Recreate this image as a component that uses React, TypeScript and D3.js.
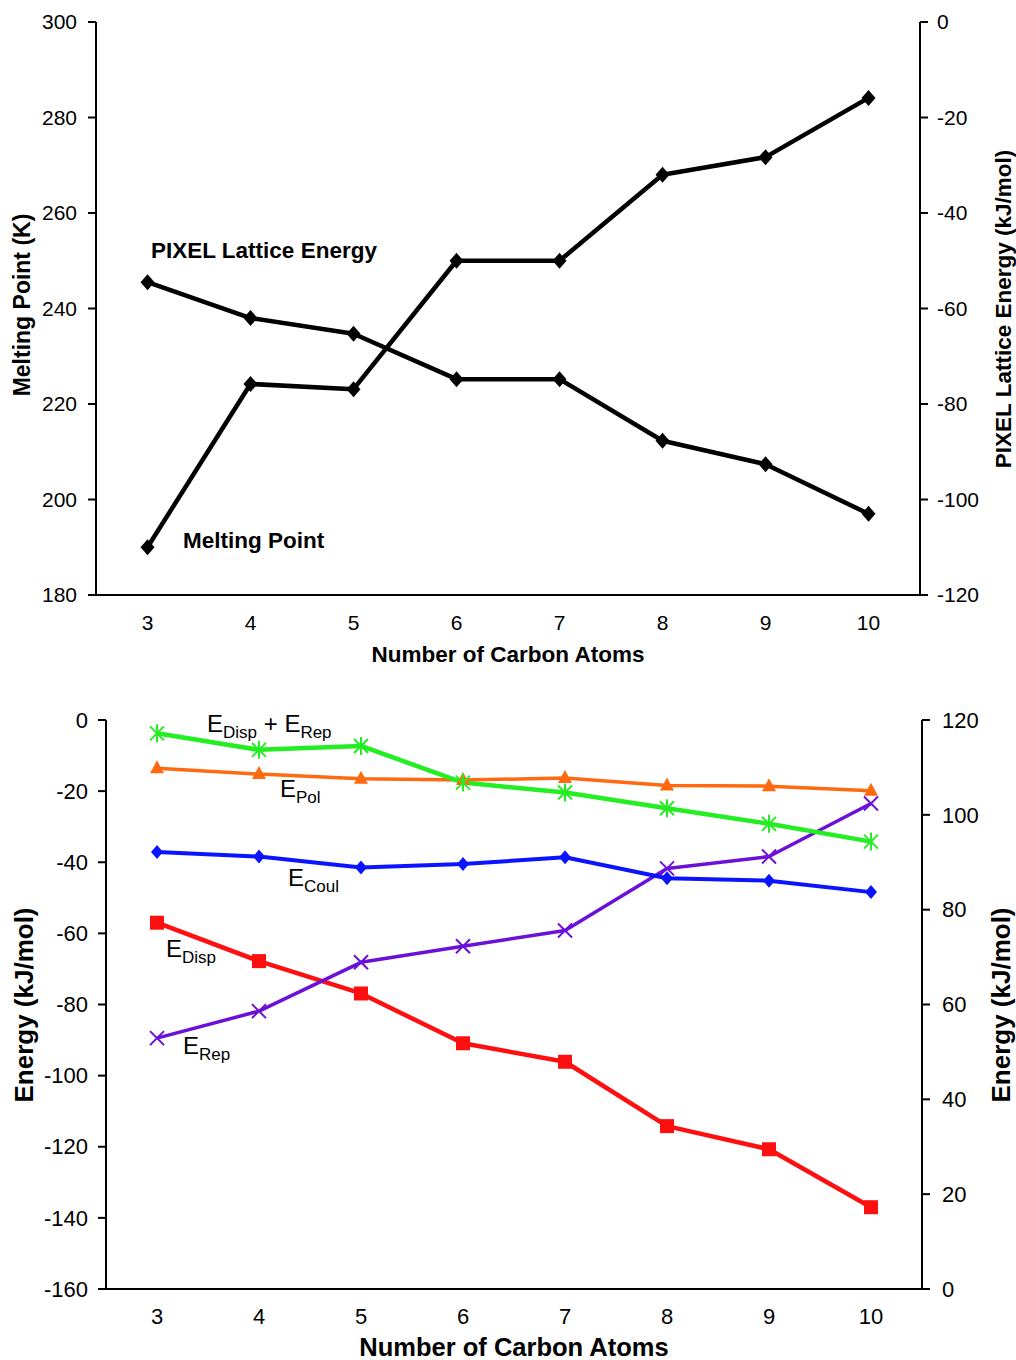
import React from "react";
import * as d3 from "d3";

const carbons = [3, 4, 5, 6, 7, 8, 9, 10];
const meltingPoint = [190, 224.2, 223.1, 250, 250, 268, 271.7, 284.1];
const pixelLattice = [-54.5, -62, -65.3, -74.8, -74.8, -87.7, -92.6, -103];

const eDispRep = [-3.75, -8.4, -7.3, -17.6, -20.4, -24.8, -29.2, -34.2];
const ePol = [-13.6, -15.2, -16.5, -16.9, -16.3, -18.4, -18.6, -19.9];
const eCoul = [-37.1, -38.4, -41.5, -40.5, -38.6, -44.5, -45.2, -48.4];
const eDisp = [-57.0, -67.8, -76.9, -90.9, -96.1, -114.2, -120.7, -137.0];
const eRep = [52.9, 58.6, 68.9, 72.3, 75.6, 88.7, 91.2, 102.4];

const topLeftTicks = [180, 200, 220, 240, 260, 280, 300];
const topRightTicks = [-120, -100, -80, -60, -40, -20, 0];
const botLeftTicks = [-160, -140, -120, -100, -80, -60, -40, -20, 0];
const botRightTicks = [0, 20, 40, 60, 80, 100, 120];

const FONT = "'Liberation Sans', Arial, sans-serif";

function diamond(cx: number, cy: number, w: number, h: number) {
  return `M${cx},${cy - h / 2}L${cx + w / 2},${cy}L${cx},${cy + h / 2}L${cx - w / 2},${cy}Z`;
}

export default function App() {
  // Top chart
  const tL = 96, tR = 920, tT = 22, tB = 595;
  const xTop = d3.scalePoint<number>().domain(carbons).range([tL, tR]).padding(0.5);
  const yTopL = d3.scaleLinear().domain([180, 300]).range([tB, tT]);
  const yTopR = d3.scaleLinear().domain([-120, 0]).range([tB, tT]);

  // Bottom chart
  const bL = 106, bR = 922, bT = 720, bB = 1289;
  const xBot = d3.scalePoint<number>().domain(carbons).range([bL, bR]).padding(0.5);
  const yBotL = d3.scaleLinear().domain([-160, 0]).range([bB, bT]);
  const yBotR = d3.scaleLinear().domain([0, 120]).range([bB, bT]);

  const lineTopMP = d3.line<number>().x((_, i) => xTop(carbons[i])!).y((d) => yTopL(d));
  const lineTopPX = d3.line<number>().x((_, i) => xTop(carbons[i])!).y((d) => yTopR(d));
  const lineBL = d3.line<number>().x((_, i) => xBot(carbons[i])!).y((d) => yBotL(d));
  const lineBR = d3.line<number>().x((_, i) => xBot(carbons[i])!).y((d) => yBotR(d));

  const green = "#22ee22";
  const orange = "#ff6a10";
  const blue = "#0a14ff";
  const red = "#ff1010";
  const purple = "#6a10d8";

  const tick = 21;

  return (
    <svg
      width={1016}
      height={1360}
      style={{ position: "absolute", left: 0, top: 0, background: "#fff" }}
      fontFamily={FONT}
    >
      {/* ===== TOP CHART ===== */}
      <g>
        <line x1={tL} y1={tT} x2={tL} y2={tB} stroke="#000" strokeWidth={2} />
        <line x1={tR} y1={tT} x2={tR} y2={tB} stroke="#000" strokeWidth={2} />
        <line x1={tL - 8} y1={tB} x2={tR + 8} y2={tB} stroke="#000" strokeWidth={2} />
        {topLeftTicks.map((t) => (
          <g key={"tl" + t}>
            <line x1={tL - 8} x2={tL} y1={yTopL(t)} y2={yTopL(t)} stroke="#000" strokeWidth={2} />
            <text x={tL - 19} y={yTopL(t)} dy="0.35em" textAnchor="end" fontSize={tick}>
              {t}
            </text>
          </g>
        ))}
        {topRightTicks.map((t) => (
          <g key={"tr" + t}>
            <line x1={tR} x2={tR + 8} y1={yTopR(t)} y2={yTopR(t)} stroke="#000" strokeWidth={2} />
            <text x={tR + 17} y={yTopR(t)} dy="0.35em" textAnchor="start" fontSize={tick}>
              {t}
            </text>
          </g>
        ))}
        {carbons.map((c) => (
          <text key={"tx" + c} x={xTop(c)} y={tB + 35} textAnchor="middle" fontSize={tick}>
            {c}
          </text>
        ))}
        <text x={508} y={662} textAnchor="middle" fontSize={22.5} fontWeight="bold">
          Number of Carbon Atoms
        </text>
        <text
          transform={`translate(30,${305}) rotate(-90)`}
          textAnchor="middle"
          fontSize={23}
          fontWeight="bold"
        >
          Melting Point (K)
        </text>
        <text
          transform={`translate(1011,${309}) rotate(-90)`}
          textAnchor="middle"
          fontSize={22.5}
          fontWeight="bold"
        >
          PIXEL Lattice Energy (kJ/mol)
        </text>

        <path d={lineTopMP(meltingPoint)!} fill="none" stroke="#000" strokeWidth={4.5} strokeLinejoin="round" />
        <path d={lineTopPX(pixelLattice)!} fill="none" stroke="#000" strokeWidth={4.5} strokeLinejoin="round" />
        {meltingPoint.map((v, i) => (
          <path key={"mp" + i} d={diamond(xTop(carbons[i])!, yTopL(v), 14, 16)} fill="#000" />
        ))}
        {pixelLattice.map((v, i) => (
          <path key={"px" + i} d={diamond(xTop(carbons[i])!, yTopR(v), 14, 16)} fill="#000" />
        ))}

        <text x={151} y={258} fontSize={22.5} fontWeight="bold">
          PIXEL Lattice Energy
        </text>
        <text x={183} y={548} fontSize={22.5} fontWeight="bold">
          Melting Point
        </text>
      </g>

      {/* ===== BOTTOM CHART ===== */}
      <g>
        <line x1={bL} y1={bT} x2={bL} y2={bB} stroke="#000" strokeWidth={2} />
        <line x1={bR} y1={bT} x2={bR} y2={bB} stroke="#000" strokeWidth={2} />
        <line x1={bL - 8} y1={bB} x2={bR + 8} y2={bB} stroke="#000" strokeWidth={2} />
        {botLeftTicks.map((t) => (
          <g key={"bl" + t}>
            <line x1={bL - 8} x2={bL} y1={yBotL(t)} y2={yBotL(t)} stroke="#000" strokeWidth={2} />
            <text x={bL - 18} y={yBotL(t)} dy="0.35em" textAnchor="end" fontSize={22}>
              {t}
            </text>
          </g>
        ))}
        {botRightTicks.map((t) => (
          <g key={"br" + t}>
            <line x1={bR} x2={bR + 8} y1={yBotR(t)} y2={yBotR(t)} stroke="#000" strokeWidth={2} />
            <text x={bR + 20} y={yBotR(t)} dy="0.35em" textAnchor="start" fontSize={22}>
              {t}
            </text>
          </g>
        ))}
        {carbons.map((c) => (
          <text key={"bx" + c} x={xBot(c)} y={bB + 35} textAnchor="middle" fontSize={22}>
            {c}
          </text>
        ))}
        <text x={514} y={1356} textAnchor="middle" fontSize={25.5} fontWeight="bold">
          Number of Carbon Atoms
        </text>
        <text
          transform={`translate(33,${1005}) rotate(-90)`}
          textAnchor="middle"
          fontSize={26}
          fontWeight="bold"
        >
          Energy (kJ/mol)
        </text>
        <text
          transform={`translate(1010,${1005}) rotate(-90)`}
          textAnchor="middle"
          fontSize={26}
          fontWeight="bold"
        >
          Energy (kJ/mol)
        </text>

        <path d={lineBL(eDisp)!} fill="none" stroke={red} strokeWidth={4.5} strokeLinejoin="round" />
        <path d={lineBR(eRep)!} fill="none" stroke={purple} strokeWidth={3.5} strokeLinejoin="round" />
        <path d={lineBL(eCoul)!} fill="none" stroke={blue} strokeWidth={4} strokeLinejoin="round" />
        <path d={lineBL(ePol)!} fill="none" stroke={orange} strokeWidth={3.5} strokeLinejoin="round" />
        <path d={lineBL(eDispRep)!} fill="none" stroke={green} strokeWidth={4.5} strokeLinejoin="round" />

        {eDisp.map((v, i) => {
          const cx = xBot(carbons[i])!, cy = yBotL(v);
          return <rect key={"ed" + i} x={cx - 7} y={cy - 7} width={14} height={14} fill={red} />;
        })}
        {eRep.map((v, i) => {
          const cx = xBot(carbons[i])!, cy = yBotR(v);
          const s = 7;
          return (
            <path
              key={"er" + i}
              d={`M${cx - s},${cy - s}L${cx + s},${cy + s}M${cx - s},${cy + s}L${cx + s},${cy - s}`}
              stroke={purple}
              strokeWidth={2}
            />
          );
        })}
        {eCoul.map((v, i) => (
          <path key={"ec" + i} d={diamond(xBot(carbons[i])!, yBotL(v), 12, 14)} fill={blue} />
        ))}
        {ePol.map((v, i) => {
          const cx = xBot(carbons[i])!, cy = yBotL(v);
          return <path key={"ep" + i} d={`M${cx},${cy - 8}L${cx + 7},${cy + 5}L${cx - 7},${cy + 5}Z`} fill={orange} />;
        })}
        {eDispRep.map((v, i) => {
          const cx = xBot(carbons[i])!, cy = yBotL(v);
          const s = 7;
          return (
            <path
              key={"edr" + i}
              d={`M${cx - s},${cy - s}L${cx + s},${cy + s}M${cx - s},${cy + s}L${cx + s},${cy - s}M${cx},${cy - s - 2}L${cx},${cy + s + 2}`}
              stroke={green}
              strokeWidth={2}
            />
          );
        })}

        <text x={207} y={732} fontSize={24}>
          E<tspan fontSize={17} dy={6}>Disp</tspan>
          <tspan dy={-6}> + E</tspan>
          <tspan fontSize={17} dy={6}>Rep</tspan>
        </text>
        <text x={280} y={797} fontSize={24}>
          E<tspan fontSize={17} dy={6}>Pol</tspan>
        </text>
        <text x={288} y={886} fontSize={24}>
          E<tspan fontSize={17} dy={6}>Coul</tspan>
        </text>
        <text x={166} y={957} fontSize={24}>
          E<tspan fontSize={17} dy={6}>Disp</tspan>
        </text>
        <text x={183} y={1054} fontSize={24}>
          E<tspan fontSize={17} dy={6}>Rep</tspan>
        </text>
      </g>
    </svg>
  );
}
